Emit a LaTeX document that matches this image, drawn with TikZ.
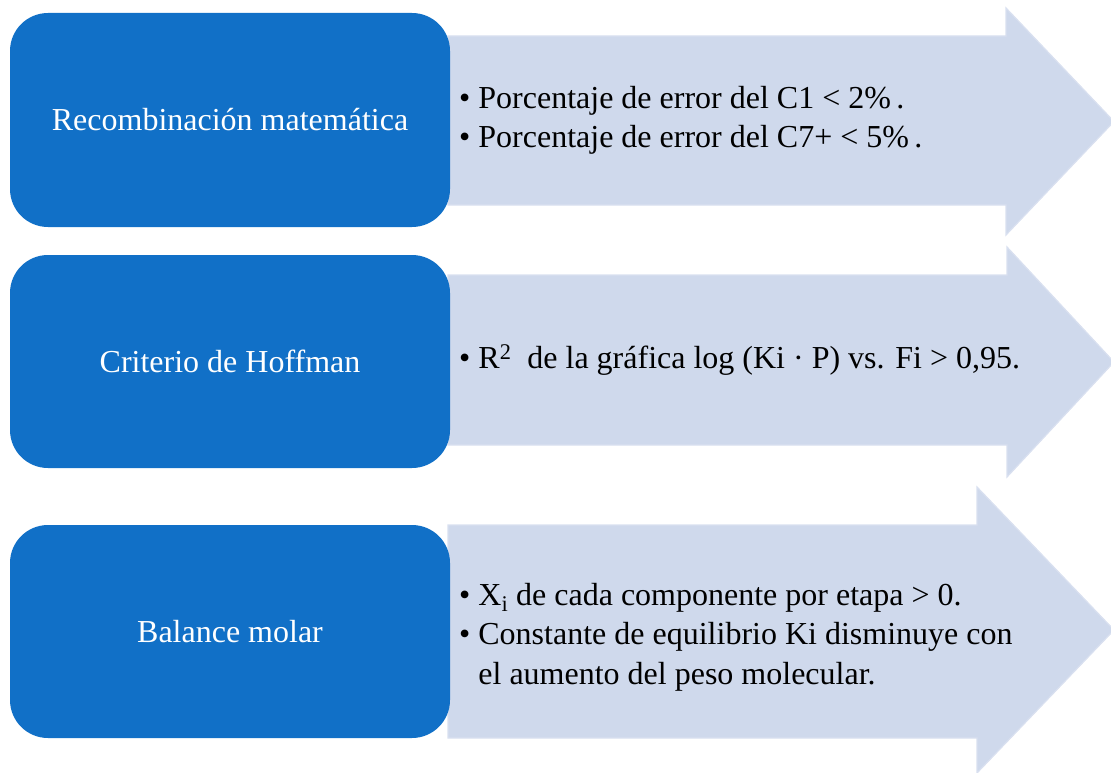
\documentclass[tikz,border=0pt]{standalone}
\usepackage{fontspec}
\setmainfont{Liberation Serif}
\definecolor{boxblue}{HTML}{1170C7}
\definecolor{arrowfill}{HTML}{CFD9EC}
\definecolor{arrowedge}{HTML}{D9E0F0}
\tikzset{
  leftbox/.style={fill=boxblue, draw=none, rounded corners=38pt},
  bigarrow/.style={fill=arrowfill, draw=arrowedge, line width=1.2pt, line join=miter},
  boxlabel/.style={text=white, font=\fontsize{32}{38}\selectfont, inner sep=0pt},
  bullettext/.style={anchor=west, inner sep=0pt, font=\fontsize{32}{39.5}\selectfont, text=black}
}
\begin{document}
\begin{tikzpicture}[x=1pt,y=-1pt]
\useasboundingbox (0,0) rectangle (1111,773);
\clip (0,0) rectangle (1111,773);
% arrows
\draw[bigarrow] (448,36) -- (1006,36) -- (1006,8) -- (1114,121.5) -- (1006,235) -- (1006,205) -- (448,205) -- cycle;
\draw[bigarrow] (448,275) -- (1007,275) -- (1007,247) -- (1114,362) -- (1007,477) -- (1007,445) -- (448,445) -- cycle;
\draw[bigarrow] (448,525) -- (977,525) -- (977,487) -- (1114,630) -- (977,773) -- (977,738) -- (448,738) -- cycle;
% boxes
\fill[leftbox] (10,13) rectangle (450,227);
\fill[leftbox] (10,255) rectangle (450,468);
\fill[leftbox] (10,525) rectangle (450,738);
\node[boxlabel] (b1) at (230,120) {Recombinación matemática};
\node[boxlabel] (b2) at (230,361) {Criterio de Hoffman};
\node[boxlabel] (b3) at (230,632) {Balance molar};
% texts
\node[bullettext] (t1) at (459,120) {\begin{tabular}{@{}l@{\hspace{8pt}}l@{}}
• & Porcentaje de error del C1 < 2\%\,.\\
• & Porcentaje de error del C7+ < 5\%\,.
\end{tabular}};
\node[bullettext] (t2) at (459,361) {\begin{tabular}{@{}l@{\hspace{8pt}}l@{}}
• & R\textsuperscript{2}\ \ de la gráfica log (Ki · P) vs. Fi > 0,95.
\end{tabular}};
\node[bullettext] (t3) at (459,637) {\begin{tabular}{@{}l@{\hspace{8pt}}l@{}}
• & X\textsubscript{i} de cada componente por etapa > 0.\\
• & Constante de equilibrio Ki disminuye con\\
 & el aumento del peso molecular.
\end{tabular}};
\end{tikzpicture}
\end{document}
